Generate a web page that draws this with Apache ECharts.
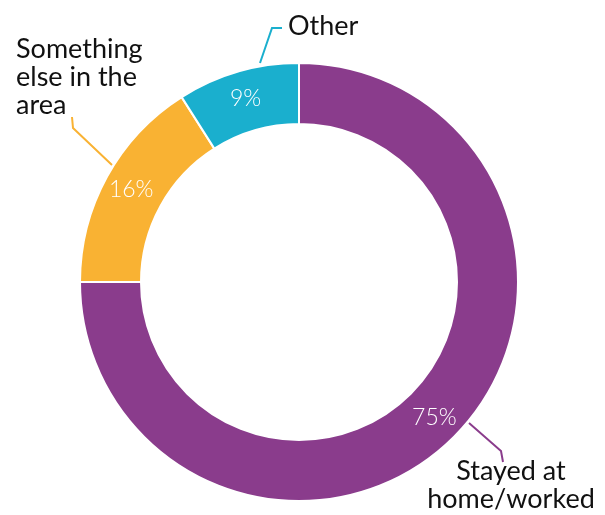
<!DOCTYPE html>
<html>
<head>
<meta charset="utf-8">
<script src="https://cdn.jsdelivr.net/npm/echarts@6/dist/echarts.min.js"></script>
<style>
  html, body { margin: 0; padding: 0; background: #ffffff; }
  #chart { width: 605px; height: 515px; }
</style>
</head>
<body>
<div id="chart"></div>
<script>
// Where people spent their time
const categories = ['Stayed at\nhome/worked', 'Something\nelse in the\narea', 'Other'];
const shares = [75, 16, 9];
const sliceColors = ['#8a3c8c', '#f9b233', '#1aafce'];

// Callout placement for each category name and its leader line
const callouts = [
  { x: 511, y: 457, align: 'center', line: [[469, 423], [501, 451], [503, 462]] },
  { x: 16, y: 35, align: 'left', line: [[112, 165], [73, 128], [72, 117]] },
  { x: 288, y: 12, align: 'left', line: [[260, 63], [272, 28], [282, 28]] }
];

const chart = echarts.init(document.getElementById('chart'), null, { renderer: 'canvas' });

const ringCenter = [299, 282];
const ringRadius = [158, 219];

chart.setOption({
  animation: false,
  series: [
    {
      // Category names with leader lines
      type: 'pie',
      z: 1,
      silent: true,
      center: ringCenter,
      radius: ringRadius,
      startAngle: 90,
      avoidLabelOverlap: false,
      itemStyle: { color: 'rgba(0,0,0,0)' },
      emphasis: { disabled: true },
      label: {
        show: true,
        position: 'outside',
        color: '#111111',
        fontFamily: 'Lato',
        fontSize: 27,
        lineHeight: 28,
        formatter: '{b}'
      },
      labelLine: { show: true, lineStyle: { width: 2 } },
      labelLayout: function (p) {
        const c = callouts[p.dataIndex];
        return {
          x: c.x,
          y: c.y,
          align: c.align,
          verticalAlign: 'top',
          labelLinePoints: c.line
        };
      },
      data: categories.map((name, i) => ({
        name: name,
        value: shares[i],
        labelLine: { lineStyle: { color: sliceColors[i], width: 2 } }
      }))
    },
    {
      // The ring with its percentage labels
      type: 'pie',
      z: 2,
      silent: true,
      center: ringCenter,
      radius: ringRadius,
      startAngle: 90,
      avoidLabelOverlap: false,
      emphasis: { disabled: true },
      itemStyle: { borderColor: '#ffffff', borderWidth: 2 },
      label: {
        show: true,
        position: 'inside',
        color: '#ffffff',
        fontFamily: 'Lato',
        fontWeight: 300,
        fontSize: 23,
        formatter: '{c}%'
      },
      labelLine: { show: false },
      data: categories.map((name, i) => ({
        name: name,
        value: shares[i],
        itemStyle: { color: sliceColors[i] }
      }))
    }
  ]
});
</script>
</body>
</html>
